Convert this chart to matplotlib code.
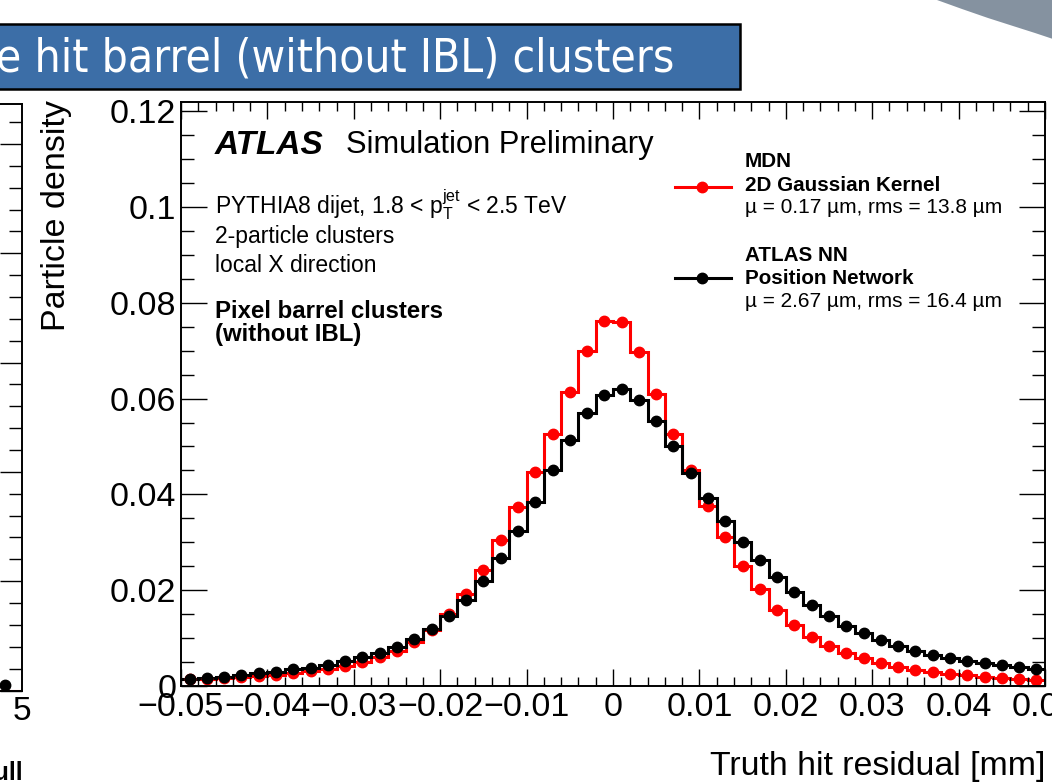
import numpy as np
import matplotlib
matplotlib.use("Agg")
import matplotlib.pyplot as plt
from matplotlib.patches import Rectangle, Polygon
from matplotlib.ticker import MultipleLocator, FixedLocator, FuncFormatter

plt.rcParams['font.family'] = ['Liberation Sans', 'DejaVu Sans']
plt.rcParams['mathtext.fontset'] = 'custom'
plt.rcParams['mathtext.rm'] = 'Liberation Sans'
plt.rcParams['mathtext.it'] = 'Liberation Sans:italic'

# histogram: 50 bins from -0.05 to 0.05 mm
edges = np.linspace(-0.05, 0.05, 51)
centers = 0.5 * (edges[1:] + edges[:-1])

# MDN 2D Gaussian kernel (red)
mdn = [0.0014, 0.0014, 0.00167, 0.00195, 0.00209, 0.00237, 0.00264, 0.00313, 0.00355, 0.00417,
       0.00508, 0.0061, 0.00737, 0.0091, 0.0117, 0.0150, 0.0193, 0.0243, 0.0305, 0.0373,
       0.0446, 0.0527, 0.0614, 0.0699, 0.0762,
       0.0760, 0.0698, 0.0609, 0.0527, 0.0451, 0.0376, 0.0312, 0.0251, 0.0202, 0.0159,
       0.0127, 0.0103, 0.0083, 0.0068, 0.0058, 0.0047, 0.0040, 0.0033, 0.0029, 0.0025,
       0.0022, 0.0019, 0.0017, 0.0014, 0.0013]

# ATLAS NN position network (black)
atlas_nn = [0.00152, 0.00174, 0.00195, 0.0023, 0.00264, 0.0030, 0.00348, 0.0038, 0.00438, 0.0052,
            0.0061, 0.00696, 0.0082, 0.0098, 0.0118, 0.0146, 0.0179, 0.0219, 0.0268, 0.0323,
            0.0385, 0.0451, 0.0513, 0.0570, 0.0608,
            0.0619, 0.0597, 0.0553, 0.0502, 0.0444, 0.0393, 0.0344, 0.0300, 0.0263, 0.0228,
            0.0196, 0.0170, 0.0147, 0.0126, 0.0111, 0.0096, 0.0084, 0.0074, 0.0065, 0.0058,
            0.0053, 0.0049, 0.0044, 0.0040, 0.0036]

x_ticks = [-0.05, -0.04, -0.03, -0.02, -0.01, 0, 0.01, 0.02, 0.03, 0.04, 0.05]
y_ticks = [0, 0.02, 0.04, 0.06, 0.08, 0.1, 0.12]

# neighbouring (pull) panel, only its last bin is visible
pull_edges = [4.0, 5.0]
pull_mdn = [0.0]
pull_nn = [0.005]

W, H = 1052, 782
fig = plt.figure(figsize=(W / 100, H / 100), dpi=100)

def fx(px):
    return px / W

def fy(py):
    return 1 - py / H

# slide decorations
fig.patches.append(Polygon([(fx(937), fy(0)), (fx(962), fy(9)), (fx(988), fy(18)),
                            (fx(1013), fy(26)), (fx(1035), fy(33)), (fx(1053), fy(39)),
                            (fx(1053), fy(0))],
                           closed=True, transform=fig.transFigure, fc='#8592a0', ec='none'))
fig.patches.append(Rectangle((fx(-6), fy(89)), fx(746), 65 / H, transform=fig.transFigure,
                             fc='#3c6ea7', ec='black', lw=1.8))
fig.text(fx(-4), fy(72), "e hit barrel (without IBL) clusters", color='white',
         family='DejaVu Sans', fontstretch='condensed', fontsize=33, va='baseline', ha='left')

# main panel
ax = fig.add_axes([fx(181), fy(686), fx(1045) - fx(181), (686 - 102) / H])
ax.stairs(mdn, edges, baseline=None, color='red', lw=2.2)
ax.plot(centers, mdn, 'o', color='red', ms=7.5)
ax.stairs(atlas_nn, edges, baseline=None, color='black', lw=2.2)
ax.plot(centers, atlas_nn, 'o', color='black', ms=7.5)

ax.set_xlim(-0.05, 0.05)
ax.set_ylim(0, 0.1219)

def root_fmt(v, pos):
    s = '{:g}'.format(round(v, 4))
    return s.replace('-', '\u2212')

ax.xaxis.set_major_locator(FixedLocator(x_ticks))
ax.xaxis.set_minor_locator(MultipleLocator(0.002))
ax.yaxis.set_major_locator(FixedLocator(y_ticks))
ax.yaxis.set_minor_locator(MultipleLocator(0.005))
ax.xaxis.set_major_formatter(FuncFormatter(root_fmt))
ax.yaxis.set_major_formatter(FuncFormatter(root_fmt))
ax.tick_params(axis='both', which='both', direction='in', top=True, right=True,
               width=1.0, labelsize=24.5)
ax.tick_params(axis='x', which='major', length=12.5, pad=4)
ax.tick_params(axis='x', which='minor', length=6.5)
ax.tick_params(axis='y', which='major', length=18.5, pad=3.5)
ax.tick_params(axis='y', which='minor', length=9.5)
for sp in ax.spines.values():
    sp.set_linewidth(1.4)

fig.text(fx(1045), fy(766), "Truth hit residual [mm]", fontsize=24.4, ha='right', va='center')
fig.text(fx(56), fy(100), "Particle density", fontsize=24.5, rotation=90, ha='center', va='top')

def axx(px):
    return (px - 181) / 864

def axy(py):
    return (686 - py) / 584

ax.text(axx(215), axy(153.5), "ATLAS", fontsize=24, fontweight='bold', fontstyle='italic',
        transform=ax.transAxes, va='baseline')
ax.text(axx(346), axy(153.5), "Simulation Preliminary", fontsize=22.2,
        transform=ax.transAxes, va='baseline')
ax.text(axx(215), axy(213), r"PYTHIA8 dijet, 1.8 < $\mathrm{p}_{\mathrm{T}}^{\mathrm{jet}}$ < 2.5 TeV",
        fontsize=16.5, transform=ax.transAxes, va='baseline')
ax.text(axx(215), axy(242.5), "2-particle clusters", fontsize=16.5,
        transform=ax.transAxes, va='baseline')
ax.text(axx(215), axy(271.5), "local X direction", fontsize=16.5,
        transform=ax.transAxes, va='baseline')
ax.text(axx(215), axy(318), "Pixel barrel clusters", fontsize=17.3, fontweight='bold',
        transform=ax.transAxes, va='baseline')
ax.text(axx(215), axy(341.5), "(without IBL)", fontsize=17.3, fontweight='bold',
        transform=ax.transAxes, va='baseline')

# legend drawn by hand (mixed bold / regular lines)
legend_entries = [
    ('red', 186.7, ["MDN", "2D Gaussian Kernel"], "\u00b5 = 0.17 \u00b5m, rms = 13.8 \u00b5m", [167.3, 191, 213.3]),
    ('black', 278.3, ["ATLAS NN", "Position Network"], "\u00b5 = 2.67 \u00b5m, rms = 16.4 \u00b5m", [260.7, 284.3, 306.7]),
]
for col, ly, bold_lines, stat_line, bases in legend_entries:
    ax.plot([axx(675), axx(731.5)], [axy(ly), axy(ly)], color=col, lw=2.2,
            transform=ax.transAxes, clip_on=False)
    ax.plot([axx(702.5)], [axy(ly)], 'o', color=col, ms=7.5, transform=ax.transAxes, clip_on=False)
    for txt, b in zip(bold_lines, bases[:2]):
        ax.text(axx(745), axy(b), txt, fontsize=14.9, fontweight='bold', transform=ax.transAxes,
                va='baseline')
    ax.text(axx(745), axy(bases[2]), stat_line, fontsize=15, transform=ax.transAxes,
            va='baseline')

# left neighbouring panel (mostly outside the picture)
axl = fig.add_axes([fx(-316), fy(690.5), fx(21.5) - fx(-316), (690.5 - 104) / H])
axl.stairs(pull_mdn, pull_edges, baseline=None, color='red', lw=2.2)
axl.plot([0.5 * (pull_edges[0] + pull_edges[1])], pull_nn, 'o', color='black', ms=7.5)
axl.set_xlim(-5, 5)
axl.set_ylim(0, 0.5366)
axl.xaxis.set_major_locator(FixedLocator([5]))
axl.xaxis.set_minor_locator(FixedLocator([]))
axl.yaxis.set_major_locator(MultipleLocator(0.1))
axl.yaxis.set_minor_locator(MultipleLocator(0.02))
axl.tick_params(axis='both', which='both', direction='in', right=True, top=True,
                labelleft=False, width=1.0, labelsize=24)
axl.tick_params(axis='y', which='major', length=16)
axl.tick_params(axis='y', which='minor', length=9.5)
axl.tick_params(axis='x', which='major', length=0, pad=4)
for sp in axl.spines.values():
    sp.set_linewidth(1.4)
fig.text(fx(23), fy(761), "Pull", fontsize=18, fontweight='bold', ha='right', va='top')

fig.savefig("out.png", dpi=100)
